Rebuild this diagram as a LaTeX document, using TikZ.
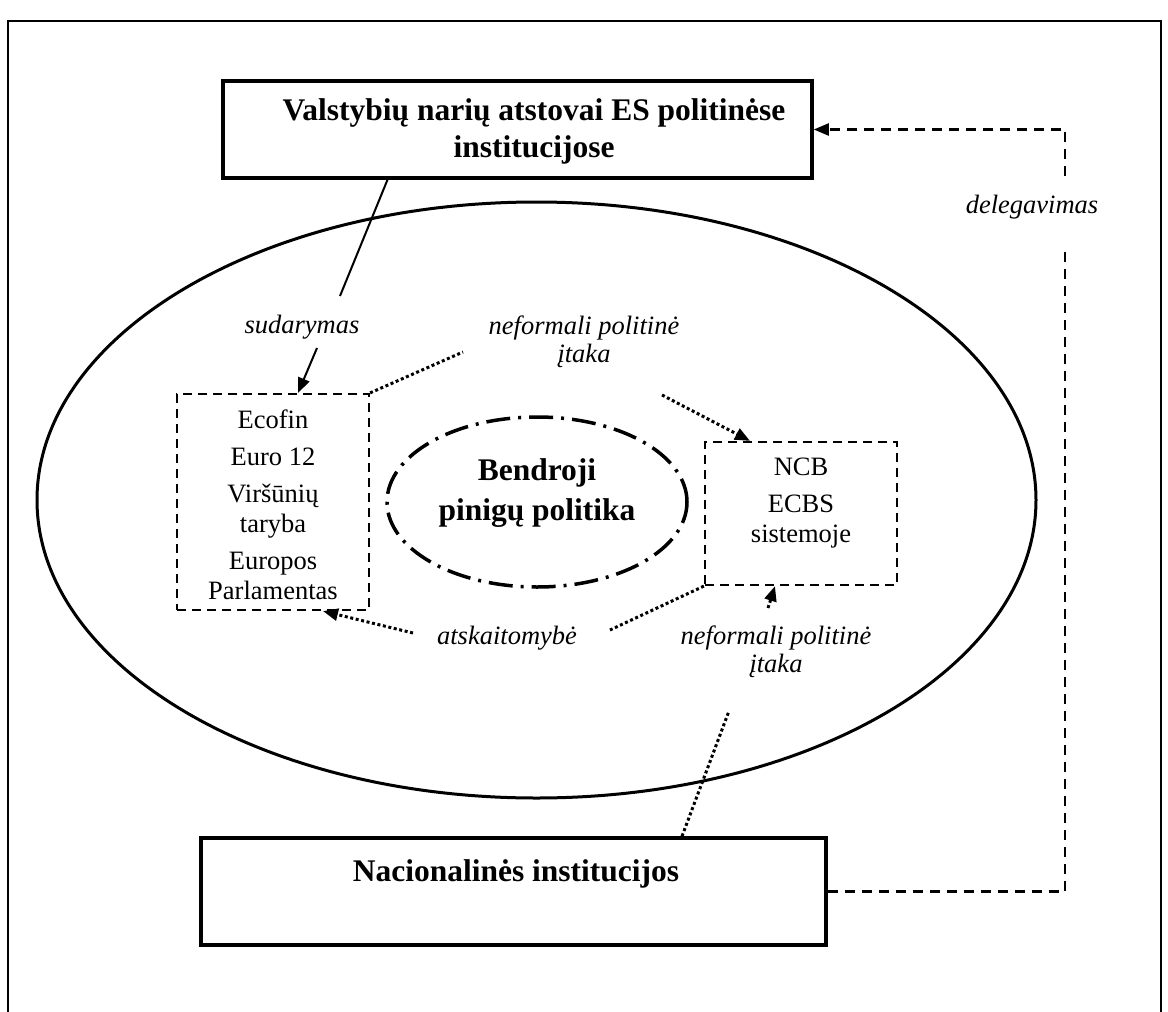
\documentclass[tikz,border=0pt]{standalone}
\usepackage{fontspec}
\setmainfont{Liberation Serif}
\usetikzlibrary{arrows.meta,shapes.geometric}

\begin{document}
\begin{tikzpicture}[x=1pt,y=-1pt,
  thickbox/.style={draw,line width=3.5pt,inner sep=0pt},
  dashbox/.style={draw,line width=2.2pt,dash pattern=on 9pt off 6pt,inner sep=0pt},
  boldtxt/.style={font=\fontsize{31.5}{37}\selectfont\bfseries,align=center,inner sep=0pt},
  plaintxt/.style={font=\fontsize{26.5}{30}\selectfont,align=center,inner sep=0pt},
  lbl/.style={font=\fontsize{26.5}{28.5}\selectfont\itshape,align=center,inner sep=0pt},
  solidln/.style={line width=2pt},
  dotln/.style={line width=3pt,dash pattern=on 3pt off 2.6pt},
  dashln/.style={line width=2.2pt,dash pattern=on 10pt off 7pt},
  tip/.style={-{Triangle[length=15pt,width=12pt]}}
]
\useasboundingbox (0,0) rectangle (1168,1012);

% outer frame, open at the bottom
\draw[line width=1.5pt] (8,1012) -- (8,21) -- (1161,21) -- (1161,1012);

% large ellipse and the inner dash-dot ellipse
\node[ellipse,draw,line width=3pt,minimum width=999pt,minimum height=596pt,inner sep=0pt] (big) at (536.5,500) {};
\node[ellipse,draw,line width=3.5pt,dash pattern=on 24pt off 8pt on 3pt off 8pt,
      minimum width=300pt,minimum height=170pt,inner sep=0pt] (core) at (537,502) {};
\node[boldtxt,font=\fontsize{31.5}{40}\selectfont\bfseries] (coretxt) at (537,493) {Bendroji\\pinigų politika};

% boxes
\node[thickbox,minimum width=589pt,minimum height=97pt] (tb) at (517.5,129.5) {};
\node[boldtxt] (tbtxt) at (534,131.5) {Valstybių narių atstovai ES politinėse\\institucijose};

\node[thickbox,minimum width=625pt,minimum height=107pt] (nb) at (513.5,891.5) {};
\node[boldtxt] (nbtxt) at (516,874) {Nacionalinės institucijos};

\node[dashbox,minimum width=192pt,minimum height=216pt] (eco) at (273,502) {};
\node[plaintxt] (ecotxt) at (273,505) {Ecofin\\[7pt]Euro 12\\[7pt]Viršūnių\\taryba\\[7pt]Europos\\Parlamentas};

\node[dashbox,minimum width=192pt,minimum height=143pt] (ncb) at (801,513.5) {};
\node[plaintxt] (ncbtxt) at (801,503.5) {NCB\\[7pt]ECBS\\sistemoje};

% labels
\node[lbl] (sud) at (302,327) {sudarymas};
\node[lbl] (nf1) at (584,342) {neformali politinė\\įtaka};
\node[lbl] (nf2) at (776,652) {neformali politinė\\įtaka};
\node[lbl] (ats) at (507,638) {atskaitomybė};
\node[lbl] (del) at (1032,207) {delegavimas};

% free ends of the connectors
\coordinate (sudtop) at (340,296);
\coordinate (sudarr) at (317,348);
\coordinate (nf1a) at (463,352);
\coordinate (nf1b) at (662,395);
\coordinate (atsa) at (413,633);
\coordinate (atsb) at (610,630);
\coordinate (nf2a) at (768,608);
\coordinate (nf2b) at (729,711);
\coordinate (dellow) at (1065,252);
\coordinate (delup) at (1065,176);

% sudarymas
\draw[solidln] ([xshift=-130pt]tb.south) -- (sudtop);
\draw[solidln,tip] (sudarr) -- ([xshift=25pt]eco.north);

% upper informal influence
\draw[dotln] (eco.north east) -- (nf1a);
\draw[dotln,tip] (nf1b) -- ([xshift=-51pt]ncb.north);

% accountability
\draw[dotln,tip] (atsa) -- ([xshift=50pt]eco.south);
\draw[dotln] (ncb.south west) -- (atsb);

% lower informal influence
\draw[dotln,tip] (nf2a) -- ([xshift=-26pt]ncb.south);
\draw[dotln] ([xshift=168.5pt]nb.north) -- (nf2b);

% delegation
\draw[dashln] (nb.east) -| (dellow);
\draw[dashln,tip] (delup) |- (tb.east);
\end{tikzpicture}
\end{document}
